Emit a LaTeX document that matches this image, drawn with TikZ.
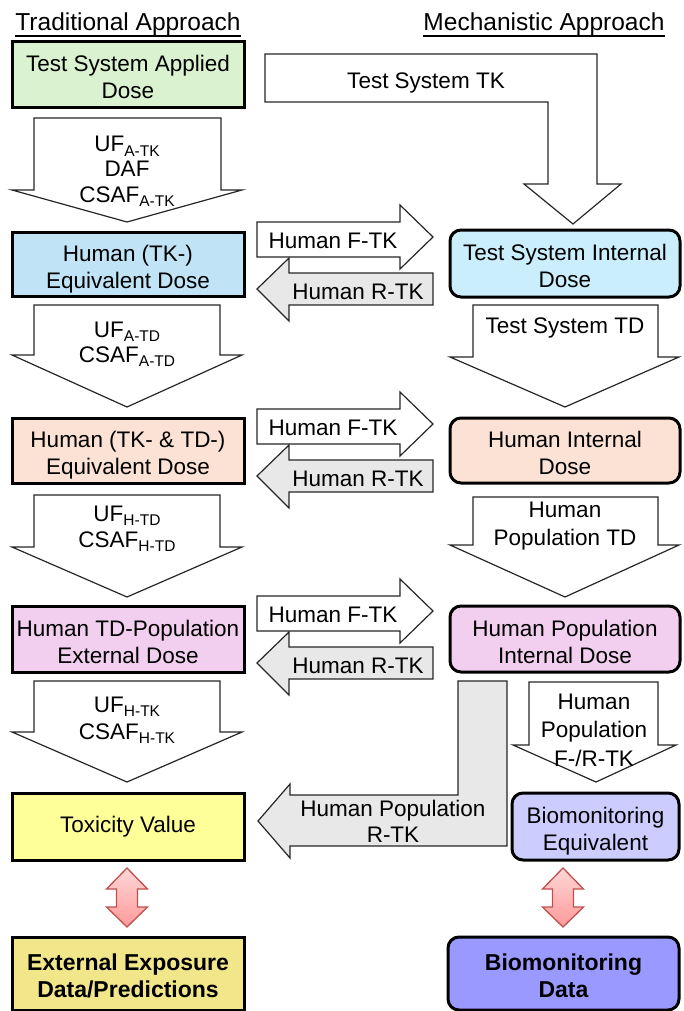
\documentclass[tikz,border=0pt]{standalone}
\usepackage{fontspec}
\setmainfont{Liberation Sans}
\definecolor{cgreen}{HTML}{DAF2D0}
\definecolor{cblueL}{HTML}{C0E4F5}
\definecolor{cblueR}{HTML}{CAEEFB}
\definecolor{cpeach}{HTML}{FBE2D5}
\definecolor{cpink}{HTML}{F2CFEE}
\definecolor{cyellow}{HTML}{FFFF99}
\definecolor{ckhaki}{HTML}{F2E68A}
\definecolor{clav}{HTML}{CCCCFF}
\definecolor{cpurple}{HTML}{9999FF}
\definecolor{cgray}{HTML}{E8E8E8}
\definecolor{cdblborder}{HTML}{C0504D}
\definecolor{cdbltop}{HTML}{FFD6D6}
\definecolor{cdblbot}{HTML}{FF9A9A}
\newcommand{\subtxt}[1]{\raisebox{-4.5pt}{\fontsize{15.5}{15.5}\selectfont #1}}
\newcommand{\twolines}[2]{\rule{0pt}{27pt}#1\\#2\rule[-6pt]{0pt}{6pt}}
\begin{document}
\begin{tikzpicture}[x=1pt,y=-1pt,
  every node/.style={font=\fontsize{22.5}{27}\selectfont, align=center, inner sep=0pt},
  sqbox/.style={draw=black, line width=3pt, minimum width=232pt},
  rbox/.style={draw=black, line width=3pt, rounded corners=11pt, minimum width=230pt},
  blockarrow/.style={draw=black!85, line width=1.2pt, fill=white, line join=miter},
  grayarrow/.style={blockarrow, fill=cgray},
  dblarrow/.style={draw=cdblborder, line width=1.3pt, top color=cdbltop, bottom color=cdblbot, line join=miter},
  lbl/.style={anchor=base},
  hdr/.style={anchor=base, font=\fontsize{24.5}{28}\selectfont}
]
\useasboundingbox (0,0) rectangle (684,1011);

% headers
\node[hdr] (h1) at (128,31) {Traditional Approach};
\node[hdr] (h2) at (544,31) {Mechanistic Approach};
\draw[line width=1.3pt] ([yshift=-5pt]h1.base west) -- ([yshift=-5pt]h1.base east);
\draw[line width=1.3pt] ([yshift=-5pt]h2.base west) -- ([yshift=-5pt]h2.base east);

% ---------- left down arrows ----------
\draw[blockarrow] (34,118) -- (221,118) -- (221,190) -- (242,190) -- (127,222) -- (12,190) -- (34,190) -- cycle;
\node[lbl] (a1t1) at (127,152) {UF\subtxt{A-TK}};
\node[lbl] (a1t2) at (127,177) {DAF};
\node[lbl] (a1t3) at (127,202) {CSAF\subtxt{A-TK}};

\draw[blockarrow] (34,305) -- (220,305) -- (220,355) -- (242,355) -- (127,407) -- (12,355) -- (34,355) -- cycle;
\node[lbl] (a2t1) at (127,337) {UF\subtxt{A-TD}};
\node[lbl] (a2t2) at (127,362) {CSAF\subtxt{A-TD}};

\draw[blockarrow] (34,495) -- (220,495) -- (220,547) -- (242,547) -- (127,597) -- (12,547) -- (34,547) -- cycle;
\node[lbl] (a3t1) at (127,521) {UF\subtxt{H-TD}};
\node[lbl] (a3t2) at (127,547) {CSAF\subtxt{H-TD}};

\draw[blockarrow] (34,681) -- (220,681) -- (220,732) -- (242,732) -- (127,782) -- (12,732) -- (34,732) -- cycle;
\node[lbl] (a4t1) at (127,712) {UF\subtxt{H-TK}};
\node[lbl] (a4t2) at (127,739) {CSAF\subtxt{H-TK}};

% ---------- right down arrows ----------
\draw[blockarrow] (265,54) -- (597,54) -- (597,184) -- (621,184) -- (573,224) -- (524,184) -- (548,184) -- (548,102) -- (265,102) -- cycle;
\node[lbl] (tstk) at (426,89) {Test System TK};

\draw[blockarrow] (473,305) -- (658,305) -- (658,357) -- (679,357) -- (565,407) -- (450,357) -- (473,357) -- cycle;
\node[lbl] (tstd) at (565,333) {Test System TD};

\draw[blockarrow] (473,497) -- (658,497) -- (658,545) -- (679,545) -- (565,597) -- (450,545) -- (473,545) -- cycle;
\node[lbl] (hptd1) at (565,517) {Human};
\node[lbl] (hptd2) at (565,545) {Population TD};

\draw[blockarrow] (529,682) -- (658,682) -- (658,745) -- (676,745) -- (596,782) -- (513,745) -- (529,745) -- cycle;
\node[lbl] (fr1) at (594,709) {Human};
\node[lbl] (fr2) at (594,737) {Population};
\node[lbl] (fr3) at (594,766) {F-/R-TK};

% ---------- horizontal arrows ----------
\foreach \d/\k in {0/1,187/2,374/3}{
  \draw[blockarrow] (257,222+\d) -- (400,222+\d) -- (400,205+\d) -- (433,237+\d) -- (400,269+\d) -- (400,257+\d) -- (257,257+\d) -- cycle;
  \node[lbl] (f\k) at (333,248+\d) {Human F-TK};
  \draw[grayarrow] (433,273+\d) -- (289,273+\d) -- (289,258+\d) -- (257,289+\d) -- (289,321+\d) -- (289,305+\d) -- (433,305+\d) -- cycle;
  \node[lbl] (r\k) at (358,299+\d) {Human R-TK};
}

% gray L arrow
\draw[grayarrow] (458,681) -- (507,681) -- (507,846) -- (290,846) -- (290,858) -- (258,821) -- (290,784) -- (290,795) -- (458,795) -- cycle;
\node[lbl] (hprtk1) at (393,816) {Human Population};
\node[lbl] (hprtk2) at (393,842) {R-TK};

% ---------- boxes ----------
\node[sqbox, fill=cgreen, minimum height=66pt] (L1) at (128,75) {\twolines{Test System Applied}{Dose}};
\node[sqbox, fill=cblueL, minimum height=64pt] (L2) at (128,264) {\twolines{Human (TK-)}{Equivalent Dose}};
\node[sqbox, fill=cpeach, minimum height=65pt] (L3) at (128,450.5) {\twolines{Human (TK- \& TD-)}{Equivalent Dose}};
\node[sqbox, fill=cpink, minimum height=66pt] (L4) at (128,639) {\twolines{Human TD-Population}{External Dose}};
\node[sqbox, fill=cyellow, minimum height=67pt] (L5) at (128,826.5) {Toxicity Value};
\node[sqbox, fill=ckhaki, minimum height=73pt, font=\fontsize{23}{27}\selectfont\bfseries] (L6) at (128,973.5) {\twolines{External Exposure}{Data/Predictions}};

\node[rbox, fill=cblueR, minimum height=67pt] (R1) at (565,263.5) {\twolines{Test System Internal}{Dose}};
\node[rbox, fill=cpeach, minimum height=65pt] (R2) at (565,450.5) {\twolines{Human Internal}{Dose}};
\node[rbox, fill=cpink, minimum height=66pt] (R3) at (565,639) {\twolines{Human Population}{Internal Dose}};
\node[rbox, fill=clav, minimum height=67pt, minimum width=167pt] (R4) at (595.5,826.5) {\twolines{Biomonitoring}{Equivalent}};
\node[rbox, fill=cpurple, minimum height=73pt, minimum width=231pt, font=\fontsize{23}{27}\selectfont\bfseries] (R5) at (563.5,973.5) {\twolines{Biomonitoring}{Data}};

% ---------- double arrows ----------
\draw[dblarrow] (127,868) -- (147.5,889) -- (137.5,889) -- (137.5,907) -- (147.5,907) -- (127,927) -- (106.5,907) -- (116.5,907) -- (116.5,889) -- (106.5,889) -- cycle;
\draw[dblarrow] (563,868) -- (583.5,889) -- (573.5,889) -- (573.5,907) -- (583.5,907) -- (563,927) -- (542.5,907) -- (552.5,907) -- (552.5,889) -- (542.5,889) -- cycle;
\end{tikzpicture}
\end{document}
